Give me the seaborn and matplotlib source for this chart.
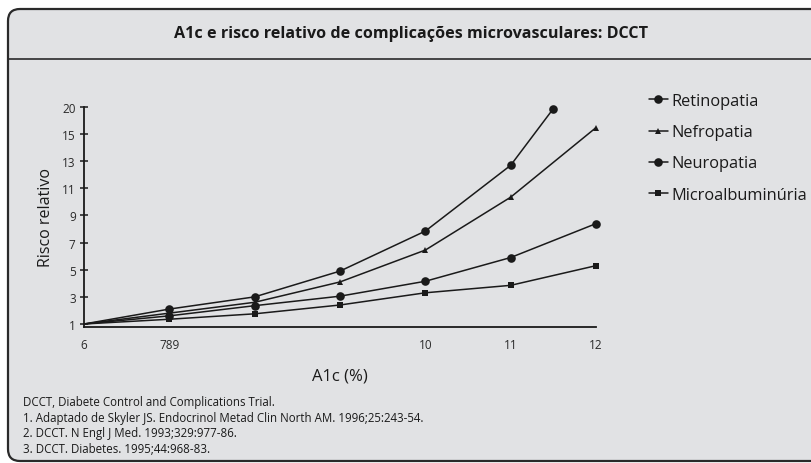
import numpy as np
import pandas as pd
import matplotlib
matplotlib.use("Agg")
import matplotlib.pyplot as plt
from matplotlib.patches import FancyBboxPatch
from matplotlib.lines import Line2D
import seaborn as sns

# ---- data ----
a1c_x = [6, 7, 8, 9, 10, 11, 12]
retinopatia_x = [6, 7, 8, 9, 10, 11, 11.5]
retinopatia = [1, 2.1, 3.0, 4.9, 7.85, 12.7, 19.7]
nefropatia = [1, 1.8, 2.6, 4.1, 6.45, 10.35, 16.2]
neuropatia = [1, 1.6, 2.35, 3.05, 4.15, 5.9, 8.4]
microalbuminuria = [1, 1.35, 1.75, 2.4, 3.3, 3.85, 5.3]
series_names = ["Retinopatia", "Nefropatia", "Neuropatia", "Microalbuminúria"]

x_ticks = [6, 7, 10, 11, 12]
x_ticklabels = ["6", "789", "10", "11", "12"]
y_ticks = [1, 3, 5, 7, 9, 11, 13, 15, 20]

title = "A1c e risco relativo de complicações microvasculares: DCCT"
footnotes = [
    "DCCT, Diabete Control and Complications Trial.",
    "1. Adaptado de Skyler JS. Endocrinol Metad Clin North AM. 1996;25:243-54.",
    "2. DCCT. N Engl J Med. 1993;329:977-86.",
    "3. DCCT. Diabetes. 1995;44:968-83.",
]

rows = []
for name, xs, ys in [
    (series_names[0], retinopatia_x, retinopatia),
    (series_names[1], a1c_x, nefropatia),
    (series_names[2], a1c_x, neuropatia),
    (series_names[3], a1c_x, microalbuminuria),
]:
    for xv, yv in zip(xs, ys):
        rows.append({"A1c": xv, "Risco": yv, "Serie": name})
df = pd.DataFrame(rows)

sns.set_theme(style="white")
plt.rcParams["font.family"] = ["Open Sans", "DejaVu Sans"]

W, H = 811, 464
fig = plt.figure(figsize=(W / 100, H / 100), dpi=100)
fig.patch.set_facecolor("white")

# background panel
bg = fig.add_axes([0, 0, 1, 1], zorder=0)
bg.set_xlim(0, W)
bg.set_ylim(H, 0)
bg.axis("off")
panel_color = "#e1e2e4"
bg.add_patch(FancyBboxPatch((8, 10), W + 20 - 8, 452,
                            boxstyle="round,pad=0,rounding_size=12",
                            facecolor=panel_color, edgecolor="#2a2a2a",
                            linewidth=1.6))
bg.plot([8, W], [59.5, 59.5], color="#2a2a2a", linewidth=1.2)
bg.text(411, 34, title, ha="center", va="center", fontsize=11.6,
        fontweight="bold", color="#1a1a1a")
for i, t in enumerate(footnotes):
    bg.text(23, 403 + i * 15.5, t, ha="left", va="center", fontsize=8.3,
            color="#1a1a1a")

# main axes
left_px, right_px = 84, 596
bottom_px, top_px = 327.7, 108
ax = fig.add_axes([left_px / W, 1 - bottom_px / H,
                   (right_px - left_px) / W, (bottom_px - top_px) / H], zorder=1)
ax.set_facecolor("none")


def fwd(v):
    v = np.asarray(v, dtype=float)
    return np.where(v <= 15, v, 15 + (v - 15) * 0.4)


def inv(u):
    u = np.asarray(u, dtype=float)
    return np.where(u <= 15, u, 15 + (u - 15) / 0.4)


ax.set_yscale("function", functions=(fwd, inv))

markers = {"Retinopatia": "o", "Nefropatia": "^", "Neuropatia": "o",
           "Microalbuminúria": "s"}
msizes = {"Retinopatia": 6.2, "Nefropatia": 5, "Neuropatia": 6.2,
          "Microalbuminúria": 4.8}
line_color = "#1a1a1a"
for name in series_names:
    sub = df[df["Serie"] == name]
    sns.lineplot(data=sub, x="A1c", y="Risco", ax=ax, color=line_color,
                 linewidth=1.1, marker=markers[name], markersize=msizes[name],
                 markeredgewidth=0, markevery=list(range(1, len(sub))),
                 legend=False, estimator=None, sort=True, clip_on=False)

ax.set_xlim(6, 12)
ax.set_ylim(0.8, 20)
ax.set_xticks(x_ticks)
ax.set_xticklabels(x_ticklabels)
ax.set_yticks(y_ticks)
ax.set_yticklabels([str(v) for v in y_ticks])
ax.yaxis.set_minor_locator(matplotlib.ticker.NullLocator())
ax.tick_params(axis="y", direction="inout", length=6, width=1.1,
               color=line_color, labelsize=8.5, labelcolor="#2a2a2a", pad=3,
               left=True)
ax.tick_params(axis="x", length=0, labelsize=8.5, labelcolor="#2a2a2a", pad=8)
for s in ["top", "right"]:
    ax.spines[s].set_visible(False)
for s in ["left", "bottom"]:
    ax.spines[s].set_color(line_color)
    ax.spines[s].set_linewidth(1.3)
ax.set_xlabel("A1c (%)", fontsize=12, color="#1a1a1a", labelpad=12)
ax.set_ylabel("Risco relativo", fontsize=11.5, color="#1a1a1a", labelpad=6)
ax.grid(False)

handles = [Line2D([0], [0], color=line_color, linewidth=1.1,
                  marker=markers[n], markersize=msizes[n], markeredgewidth=0)
           for n in series_names]
leg = fig.legend(handles, series_names, loc="upper left",
                 bbox_to_anchor=(649 / W, 1 - 94 / H), frameon=False,
                 fontsize=11.8, handlelength=1.15, handletextpad=0.2,
                 labelspacing=0.93, borderaxespad=0, borderpad=0)
for t in leg.get_texts():
    t.set_color("#1a1a1a")

fig.savefig("out.png", dpi=100, facecolor="white")
